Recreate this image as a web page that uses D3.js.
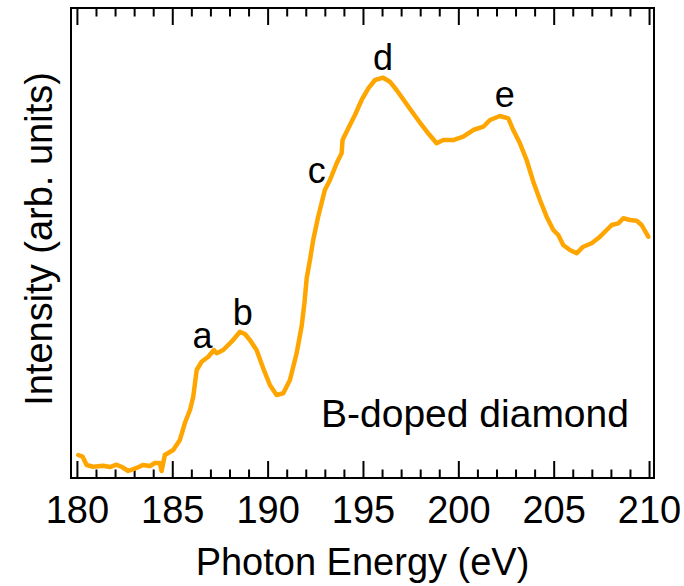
<!DOCTYPE html>
<html>
<head>
<meta charset="utf-8">
<script src="https://cdn.jsdelivr.net/npm/d3@7"></script>
<style>
  body { margin: 0; background: #fff; }
  svg text { font-family: "Liberation Sans", Arial, sans-serif; fill: #000; }
</style>
</head>
<body>
<svg width="684" height="586"></svg>
<script>
// XANES spectrum of B-doped diamond
const energy = [
  180.07, 180.30, 180.51, 180.85, 181.38, 181.73, 182.08, 182.36, 182.69, 183.13,
  183.46, 183.83, 184.09, 184.35, 184.44, 184.61, 185.05, 185.40, 185.66, 185.93,
  186.10, 186.28, 186.54, 186.89, 187.18, 187.33, 187.67, 188.11, 188.55, 188.81,
  189.07, 189.42, 189.77, 190.12, 190.47, 190.82, 191.17, 191.52, 191.78, 191.93,
  192.05, 192.22, 192.39, 192.65, 193.00, 193.27, 193.62, 193.88, 193.93, 194.23,
  194.58, 194.93, 195.28, 195.63, 196.06, 196.41, 196.76, 197.20, 197.63, 198.08,
  198.42, 198.86, 199.21, 199.73, 200.26, 200.78, 201.31, 201.66, 202.18, 202.62,
  202.88, 203.23, 203.58, 203.93, 204.28, 204.63, 204.98, 205.24, 205.50, 205.85,
  206.20, 206.55, 206.99, 207.43, 207.78, 208.04, 208.39, 208.65, 209.00, 209.35,
  209.61, 209.96
];
const intensity = [
  4.89, 4.53, 2.77, 2.40, 2.62, 2.34, 2.83, 2.34, 1.49, 2.13,
  2.77, 2.55, 3.19, 3.19, 1.49, 4.89, 5.96, 8.09, 11.70, 14.47,
  17.30, 22.98, 24.74, 25.81, 27.23, 26.53, 27.23, 29.00, 31.13, 30.64,
  29.36, 27.23, 23.34, 19.79, 17.66, 18.02, 20.85, 26.53, 32.19, 37.23,
  42.55, 46.38, 50.64, 55.60, 61.28, 63.40, 66.96, 69.09, 71.91, 74.40,
  77.23, 80.43, 82.91, 84.68, 85.17, 84.32, 82.55, 80.06, 77.60, 75.11,
  73.34, 71.21, 71.91, 71.91, 72.62, 74.04, 74.74, 76.17, 77.02, 76.53,
  74.04, 71.21, 67.66, 63.04, 59.15, 55.60, 52.77, 51.70, 49.57, 48.51,
  47.81, 49.21, 49.94, 51.34, 52.77, 53.83, 54.19, 55.26, 54.89, 54.74,
  53.83, 51.34
];

const majorTicks = [180, 185, 190, 195, 200, 205, 210];
const minorTicks = d3.range(180, 211, 1).filter(v => v % 5 !== 0);

// peak labels: energy and intensity of the text baseline
const peakNames = ["a", "b", "c", "d", "e"];
const peakE = [186.58, 188.70, 192.57, 196.05, 202.44];
const peakI = [27.6, 32.6, 62.8, 86.8, 79.0];

const sampleName = "B-doped diamond";

const plot = { left: 71, right: 654, top: 8, bottom: 478 };

const x = d3.scaleLinear().domain([179.69, 210.26]).range([plot.left, plot.right]);
const y = d3.scaleLinear().domain([0, 100]).range([plot.bottom, plot.top]);

const svg = d3.select("svg");

// bottom axis: major ticks with labels, inward
const axBottom = svg.append("g")
  .attr("transform", `translate(0,${plot.bottom})`)
  .call(d3.axisBottom(x).tickValues(majorTicks).tickSize(-17).tickPadding(18).tickFormat(d3.format("d")));
axBottom.select(".domain").remove();
axBottom.selectAll("text").style("font-size", "38px");

const axBottomMinor = svg.append("g")
  .attr("transform", `translate(0,${plot.bottom})`)
  .call(d3.axisBottom(x).tickValues(minorTicks).tickSize(-8.5).tickFormat(""));
axBottomMinor.select(".domain").remove();

// top axis: mirrored ticks, no labels
const axTop = svg.append("g")
  .attr("transform", `translate(0,${plot.top})`)
  .call(d3.axisTop(x).tickValues(majorTicks).tickSize(-17).tickFormat(""));
axTop.select(".domain").remove();

const axTopMinor = svg.append("g")
  .attr("transform", `translate(0,${plot.top})`)
  .call(d3.axisTop(x).tickValues(minorTicks).tickSize(-8.5).tickFormat(""));
axTopMinor.select(".domain").remove();

svg.selectAll(".tick line").attr("stroke", "#000").attr("stroke-width", 2);

// frame
svg.append("rect")
  .attr("x", plot.left).attr("y", plot.top)
  .attr("width", plot.right - plot.left).attr("height", plot.bottom - plot.top)
  .attr("fill", "none").attr("stroke", "#000").attr("stroke-width", 2);

// spectrum
const line = d3.line()
  .x(i => x(energy[i]))
  .y(i => y(intensity[i]));

svg.append("path")
  .datum(d3.range(energy.length))
  .attr("d", line)
  .attr("fill", "none")
  .attr("stroke", "#ffa500")
  .attr("stroke-width", 4.5)
  .attr("stroke-linejoin", "round")
  .attr("stroke-linecap", "round");

// peak labels
svg.append("g")
  .selectAll("text")
  .data(peakNames)
  .enter()
  .append("text")
  .attr("x", (d, i) => x(peakE[i]))
  .attr("y", (d, i) => y(peakI[i]))
  .attr("text-anchor", "middle")
  .style("font-size", "36px")
  .text(d => d);

svg.append("text")
  .attr("x", 475).attr("y", 427)
  .attr("text-anchor", "middle")
  .style("font-size", "39px")
  .text(sampleName);

// axis titles
svg.append("text")
  .attr("x", (plot.left + plot.right) / 2).attr("y", 575)
  .attr("text-anchor", "middle")
  .style("font-size", "38px")
  .text("Photon Energy (eV)");

svg.append("text")
  .attr("transform", "translate(52,239) rotate(-90)")
  .attr("text-anchor", "middle")
  .style("font-size", "38px")
  .text("Intensity (arb. units)");
</script>
</body>
</html>
